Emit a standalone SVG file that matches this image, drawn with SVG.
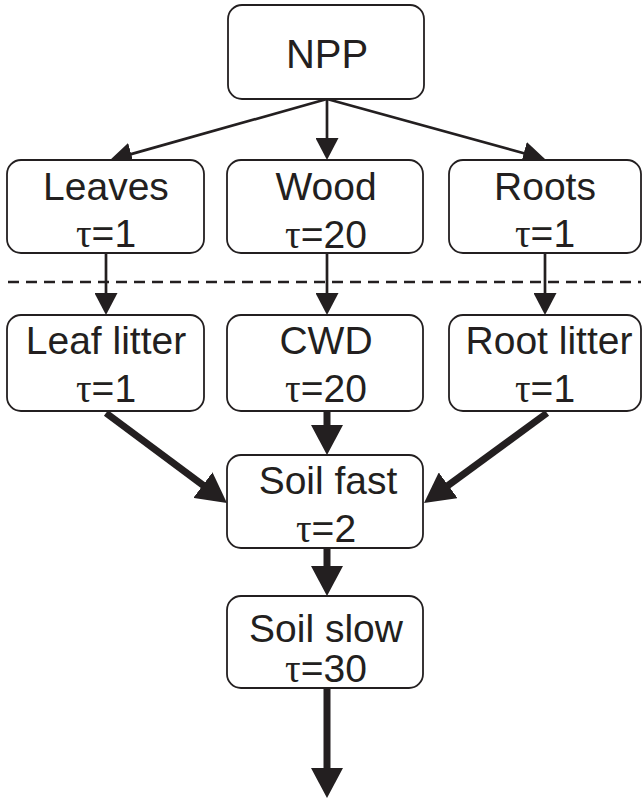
<svg xmlns="http://www.w3.org/2000/svg" width="642" height="800" viewBox="0 0 642 800">
<style>
.box{fill:#fff;stroke:#231f20;stroke-width:1.8}
.t{font-family:"Liberation Sans",Arial,sans-serif;font-size:39px;fill:#231f20;text-anchor:middle}
.tau{font-family:"Liberation Serif","Times New Roman",serif}
.thin{stroke:#231f20;stroke-width:2.7;fill:none}
.thick{stroke:#231f20;stroke-width:7;fill:none}
</style>
<defs>
<marker id="hThin" markerUnits="userSpaceOnUse" markerWidth="22" markerHeight="23" refX="2" refY="11.5" orient="auto">
<path d="M0,0 L22,11.5 L0,23 z" fill="#231f20"/>
</marker>
<marker id="hThick" markerUnits="userSpaceOnUse" markerWidth="30" markerHeight="32" refX="3" refY="16" orient="auto">
<path d="M0,0 L30,16 L0,32 z" fill="#231f20"/>
</marker>
</defs>
<rect width="642" height="800" fill="#fff"/>
<line x1="8" y1="282" x2="641" y2="282" stroke="#231f20" stroke-width="2.5" stroke-dasharray="11 7"/>
<g id="connectors">
<line class="thin" x1="327" y1="99" x2="129.3" y2="154.6" marker-end="url(#hThin)"/>
<line class="thin" x1="327" y1="99" x2="327" y2="140" marker-end="url(#hThin)"/>
<line class="thin" x1="327" y1="99" x2="525.7" y2="153.7" marker-end="url(#hThin)"/>
<line class="thin" x1="106" y1="253" x2="106" y2="295" marker-end="url(#hThin)"/>
<line class="thin" x1="327" y1="253" x2="327" y2="295" marker-end="url(#hThin)"/>
<line class="thin" x1="545" y1="253" x2="545" y2="295" marker-end="url(#hThin)"/>
<line class="thick" x1="106" y1="413" x2="205.3" y2="486.9" marker-end="url(#hThick)"/>
<line class="thick" x1="327" y1="411" x2="327" y2="428" marker-end="url(#hThick)"/>
<line class="thick" x1="547" y1="413" x2="445.8" y2="487.1" marker-end="url(#hThick)"/>
<line class="thick" x1="327" y1="548" x2="327" y2="569" marker-end="url(#hThick)"/>
<line class="thick" x1="327" y1="688" x2="327" y2="771" marker-end="url(#hThick)"/>
</g>
<g id="npp"><rect class="box" x="228" y="5" width="196" height="94" rx="14"/><text class="t" x="327" y="68" style="font-size:40px">NPP</text></g>
<g id="leaves"><rect class="box" x="7" y="160" width="197" height="93" rx="14"/><text class="t" x="106" y="200">Leaves</text><text class="t" x="106" y="247"><tspan class="tau">τ</tspan>=1</text></g>
<g id="wood"><rect class="box" x="227" y="160" width="196" height="93" rx="14"/><text class="t" x="326" y="200">Wood</text><text class="t" x="326" y="248"><tspan class="tau">τ</tspan>=20</text></g>
<g id="roots"><rect class="box" x="449" y="160" width="192" height="93" rx="14"/><text class="t" x="545" y="200">Roots</text><text class="t" x="545" y="247"><tspan class="tau">τ</tspan>=1</text></g>
<g id="leaf-litter"><rect class="box" x="7" y="315" width="197" height="96" rx="14"/><text class="t" x="106" y="354">Leaf litter</text><text class="t" x="106" y="402"><tspan class="tau">τ</tspan>=1</text></g>
<g id="cwd"><rect class="box" x="227" y="315" width="196" height="96" rx="14"/><text class="t" x="326" y="354">CWD</text><text class="t" x="326" y="402"><tspan class="tau">τ</tspan>=20</text></g>
<g id="root-litter"><rect class="box" x="449" y="315" width="192" height="96" rx="14"/><text class="t" x="549" y="354">Root litter</text><text class="t" x="545" y="402"><tspan class="tau">τ</tspan>=1</text></g>
<g id="soil-fast"><rect class="box" x="227" y="455" width="196" height="93" rx="14"/><text class="t" x="328" y="494">Soil fast</text><text class="t" x="326" y="542"><tspan class="tau">τ</tspan>=2</text></g>
<g id="soil-slow"><rect class="box" x="227" y="596" width="196" height="92" rx="14"/><text class="t" x="326" y="642">Soil slow</text><text class="t" x="326" y="682"><tspan class="tau">τ</tspan>=30</text></g>
</svg>
